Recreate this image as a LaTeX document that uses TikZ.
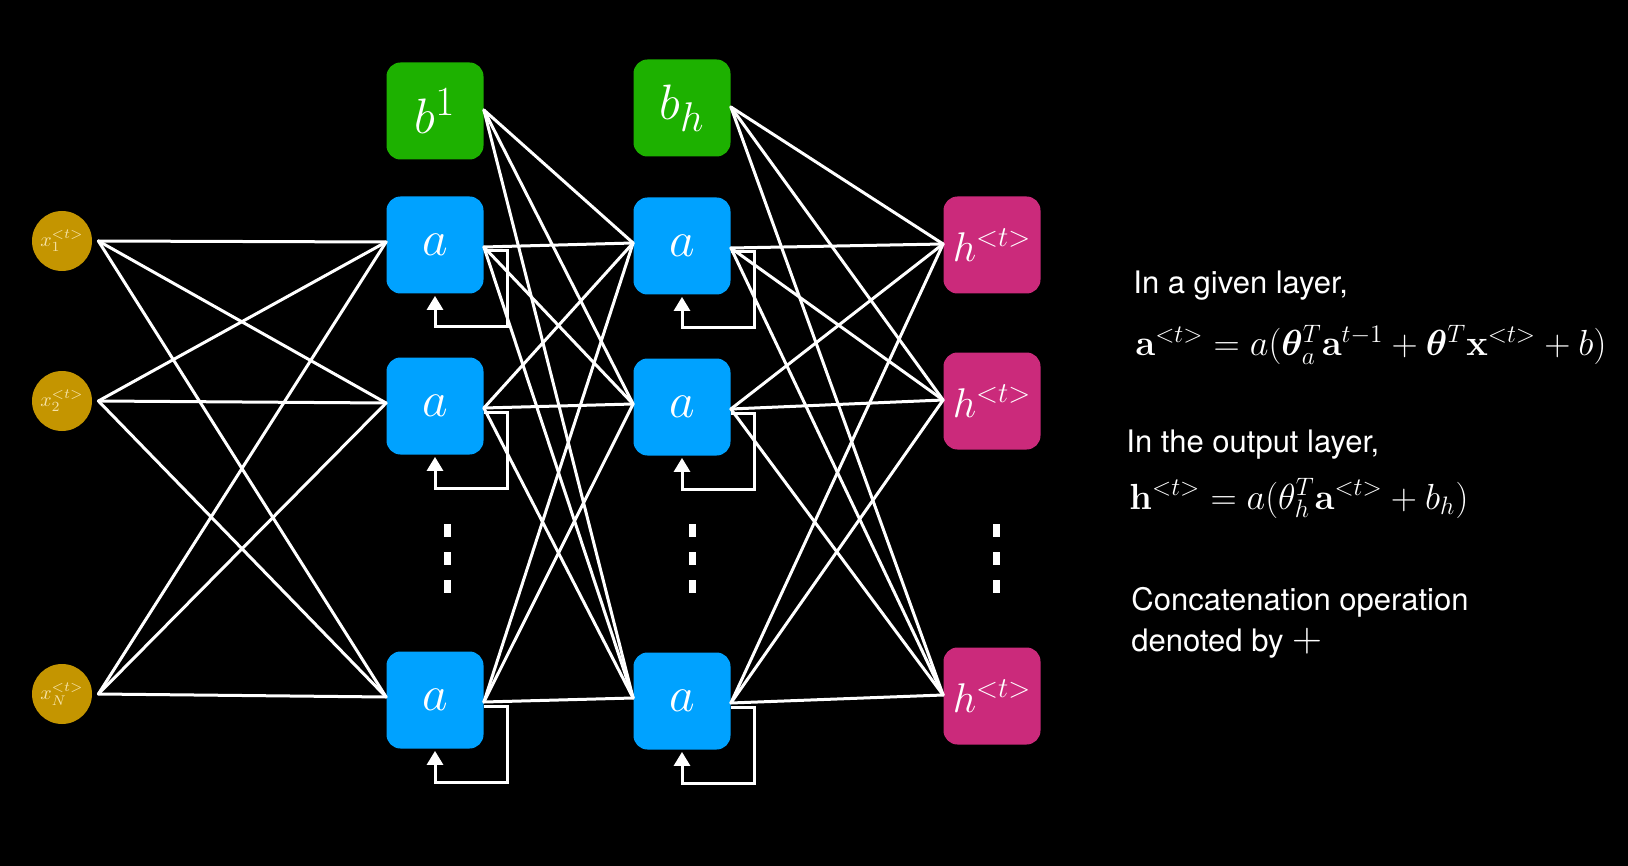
\documentclass[tikz,border=0pt]{standalone}
\usepackage[no-math]{fontspec}
\setmainfont{TeX Gyre Heros}
\usepackage{bm}
\usepackage{graphicx}
\usetikzlibrary{arrows.meta}
\definecolor{bgblack}{HTML}{000000}
\definecolor{hidblue}{HTML}{00A2FF}
\definecolor{biasgreen}{HTML}{1DB100}
\definecolor{outmag}{HTML}{CB2A7B}
\definecolor{ingold}{HTML}{C49500}
\definecolor{inlabel}{HTML}{F6E3A8}
\tikzset{
  inp/.style={circle, fill=ingold, minimum size=30pt, inner sep=0pt, text=inlabel, font=\fontsize{10}{10}\selectfont},
  sqbox/.style={rounded corners=7pt, minimum size=48.5pt, inner sep=0pt, text=white, font=\fontsize{24.88}{24.88}\selectfont},
  hid/.style={sqbox, fill=hidblue},
  bias/.style={sqbox, fill=biasgreen},
  outn/.style={sqbox, fill=outmag, font=\fontsize{20.74}{20.74}\selectfont},
  wire/.style={draw=white, line width=1.5pt, line cap=round},
  lp/.style={draw=white, line width=1.5pt, -{Triangle[width=8pt,length=7pt]}},
  txt/.style={text=white, inner sep=0pt, anchor=base west, font=\fontsize{15.5}{18}\selectfont},
  eqn/.style={text=white, inner sep=0pt, anchor=base west, font=\fontsize{17.28}{21}\selectfont},
  dotbar/.style={fill=white}
}
\begin{document}
\begin{tikzpicture}[x=0.5pt,y=-0.5pt]
\fill[bgblack] (0,0) rectangle (1628,866);
\useasboundingbox (0,0) rectangle (1628,866);

% input layer
\node[inp] (x1) at (62,241) {$x_1^{<t>}$};
\node[inp] (x2) at (62,401) {$x_2^{<t>}$};
\node[inp] (xN) at (62,694) {$x_N^{<t>}$};

% hidden layer 1
\node[bias] (b1) at (435,111) {$b^1$};
\node[hid] (a11) at (435,245) {$a$};
\node[hid] (a12) at (435,406) {$a$};
\node[hid] (a13) at (435,700) {$a$};

% hidden layer 2
\node[bias] (bh) at (682,108) {$b_h$};
\node[hid] (a21) at (682,246) {$a$};
\node[hid] (a22) at (682,407) {$a$};
\node[hid] (a23) at (682,701) {$a$};

% output layer
\node[outn] (h1) at (992,245) {$h^{<t>}$};
\node[outn] (h2) at (992,401) {$h^{<t>}$};
\node[outn] (h3) at (992,696) {$h^{<t>}$};

% connections
\foreach \s in {x1,x2,xN}
  \foreach \t in {a11,a12,a13}
    \draw[wire] ([xshift=3pt]\s.east) -- ([yshift=1.5pt]\t.west);
\foreach \t in {a21,a22,a23}
  \draw[wire] ([yshift=0.5pt]b1.east) -- ([yshift=1.5pt]\t.west);
\foreach \s in {a11,a12,a13}
  \foreach \t in {a21,a22,a23}
    \draw[wire] ([yshift=-1pt]\s.east) -- ([yshift=1.5pt]\t.west);
\foreach \t in {h1,h2,h3}
  \draw[wire] ([yshift=0.5pt]bh.east) -- ([yshift=0.5pt]\t.west);
\foreach \s in {a21,a22,a23}
  \foreach \t in {h1,h2,h3}
    \draw[wire] ([yshift=-1pt]\s.east) -- ([yshift=0.5pt]\t.west);

% recurrent loops
\foreach \n in {a11,a12,a13,a21,a22,a23}
  \draw[lp] ([yshift=-3pt]\n.east) -- ++(24,0) |- ([yshift=-41pt]\n.center) -- ([yshift=-1pt]\n.south);

% vertical dots
\foreach \cx in {447,692,996}
  \foreach \cy in {524,552,580}
    \fill[dotbar] (\cx-3.5,\cy) rectangle (\cx+3.5,\cy+13);

% text
\node[txt] (t1) at (1133,293) {In a given layer,};
\node[eqn] (e1) at (1135,356) {\scalebox{1.05}{$\mathbf{a}^{<t>}=a(\bm{\theta}_a^T\mathbf{a}^{t-1}+\bm{\theta}^T\mathbf{x}^{<t>}+b)$}};
\node[txt] (t2) at (1126,452) {In the output layer,};
\node[eqn] (e2) at (1129,509) {\scalebox{1.05}{$\mathbf{h}^{<t>}=a(\theta_h^T\mathbf{a}^{<t>}+b_h)$}};
\node[txt] (t3) at (1131,610) {Concatenation operation};
\node[txt] (t4) at (1131,651) {denoted by {\fontsize{20.74}{20.74}\selectfont$+$}};
\end{tikzpicture}
\end{document}
